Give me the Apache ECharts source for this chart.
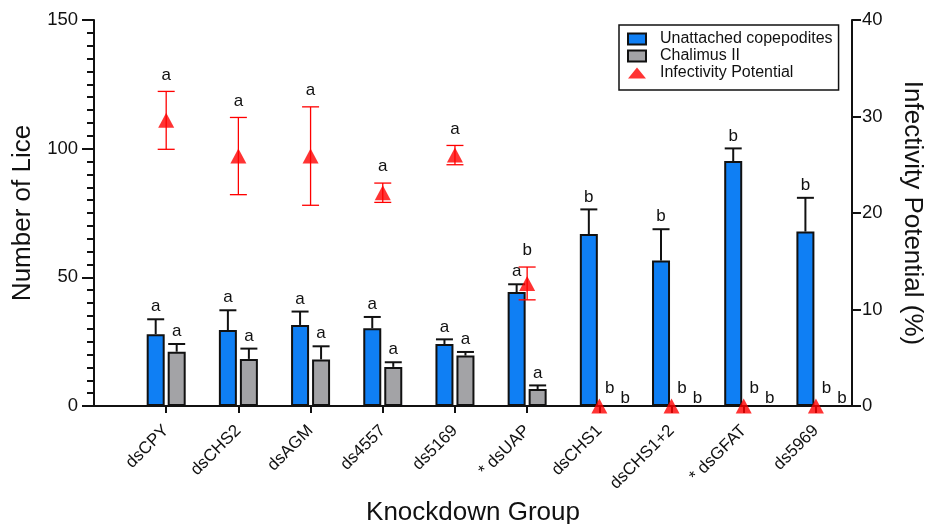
<!doctype html>
<html>
<head>
<meta charset="utf-8">
<title>Knockdown Group</title>
<script src="https://cdn.jsdelivr.net/npm/echarts@6/dist/echarts.min.js"></script>
</head>
<body style="margin:0;padding:0;background:#fff">
<div id="chart" style="width:927px;height:524px"></div>
<script>
// categories (x = index + 1 on a value axis so the ends match the original)
var groups = ['dsCPY', 'dsCHS2', 'dsAGM', 'ds4557', 'ds5169', '* dsUAP', 'dsCHS1', 'dsCHS1+2', '* dsGFAT', 'ds5969'];
var copepodites = [27.9, 29.5, 31.5, 30.2, 24.1, 44.3, 66.8, 56.5, 95.2, 67.8];
var copepoditesErr = [5.8, 7.7, 5.2, 4.4, 1.8, 3.0, 9.6, 12.2, 4.9, 13.1];
var chalimus = [21.1, 18.3, 18.1, 15.2, 19.6, 6.6, 0, 0, 0, 0];
var chalimusErr = [3.0, 4.0, 5.1, 1.8, 1.4, 1.4, 0, 0, 0, 0];
var infectivity = [29.6, 25.9, 25.9, 22.1, 26.0, 12.7, 0, 0, 0, 0];
var infectivityErr = [3.0, 4.0, 5.1, 1.0, 1.0, 1.7, 0, 0, 0, 0];
var lettersCope = ['a', 'a', 'a', 'a', 'a', 'a', 'b', 'b', 'b', 'b'];
var lettersChal = ['a', 'a', 'a', 'a', 'a', 'a', 'b', 'b', 'b', 'b'];
var lettersInf = ['a', 'a', 'a', 'a', 'a', 'b', 'b', 'b', 'b', 'b'];
var liceTicks = [0, 50, 100, 150];
var infTicks = [0, 10, 20, 30, 40];

var FONT = '"Liberation Sans", Arial, sans-serif';
var BAR_W = 18, BAR_GAP = 3;
var xs = groups.map(function (g, i) { return i + 1; });

function pairs(vals) {
    return vals.map(function (v, i) { return [xs[i], v]; });
}
function errData(vals, errs) {
    return vals.map(function (v, i) { return [xs[i], v, errs[i]]; });
}

// error bar + significance letter; side: -1 blue bar, 1 gray bar, 0 triangle
function makeErr(letters, side) {
    return function (params, api) {
        var x = api.value(0), v = api.value(1), e = api.value(2);
        var letter = letters[params.dataIndex];
        var base = api.coord([x, v]);
        var top = api.coord([x, v + e]);
        var bot = api.coord([x, v - e]);
        var cx = base[0] + side * (BAR_W + BAR_GAP) / 2;
        var tri = side === 0;
        var col = tri ? '#ff0000' : '#111';
        var lw = tri ? 1.3 : 2;
        var half = 8.5;
        var kids = [];
        if (e > 0) {
            kids.push({ type: 'line', shape: { x1: cx, y1: tri ? bot[1] : base[1], x2: cx, y2: top[1] }, style: { stroke: col, lineWidth: lw } });
            kids.push({ type: 'line', shape: { x1: cx - half, y1: top[1], x2: cx + half, y2: top[1] }, style: { stroke: col, lineWidth: lw } });
            if (tri) kids.push({ type: 'line', shape: { x1: cx - half, y1: bot[1], x2: cx + half, y2: bot[1] }, style: { stroke: col, lineWidth: lw } });
        }
        var tx = cx, ty = top[1] - (tri ? 8 : 4);
        if (v === 0 && e === 0) {
            if (tri) { tx = cx + 26; ty = base[1] + 1; }
            else { tx = cx; ty = base[1] - 9; }
        }
        kids.push({ type: 'text', style: { text: letter, x: tx, y: ty, align: 'center', verticalAlign: 'bottom', fill: '#111', font: '17px ' + FONT } });
        return { type: 'group', children: kids };
    };
}

var chart = echarts.init(document.getElementById('chart'));
chart.setOption({
    animation: false,
    textStyle: { fontFamily: FONT },
    grid: { left: 94, right: 75, top: 20, bottom: 118, outerBoundsMode: 'none', containLabel: false },
    legend: {
        orient: 'vertical',
        left: 619,
        top: 25,
        padding: [6, 6, 9, 8],
        itemGap: 1,
        itemWidth: 18,
        itemHeight: 11,
        borderColor: '#111',
        borderWidth: 1.5,
        backgroundColor: '#fff',
        textStyle: { fontSize: 16, color: '#111', fontFamily: FONT, padding: [0, 0, 0, 9] },
        data: [
            { name: 'Unattached copepodites', icon: 'rect' },
            { name: 'Chalimus II', icon: 'rect' },
            { name: 'Infectivity Potential', icon: 'triangle' }
        ]
    },
    xAxis: {
        type: 'value',
        min: 0,
        max: 10.5,
        name: 'Knockdown Group',
        nameLocation: 'middle',
        nameGap: 87,
        nameTextStyle: { fontSize: 26, color: '#111', fontFamily: FONT },
        axisLine: { lineStyle: { color: '#111', width: 2 } },
        axisTick: { customValues: xs, length: 7, lineStyle: { color: '#111', width: 2 } },
        splitLine: { show: false },
        axisLabel: {
            customValues: xs,
            rotate: 45,
            margin: 22,
            fontSize: 17,
            color: '#111',
            formatter: function (v) { return groups[Math.round(v) - 1] || ''; }
        }
    },
    yAxis: [{
        type: 'value',
        min: liceTicks[0],
        max: liceTicks[liceTicks.length - 1],
        interval: liceTicks[1] - liceTicks[0],
        name: 'Number of Lice',
        nameLocation: 'middle',
        nameGap: 56,
        nameTextStyle: { fontSize: 26, color: '#111', fontFamily: FONT },
        axisLine: { show: true, lineStyle: { color: '#111', width: 2 } },
        axisTick: { show: true, length: 12, lineStyle: { color: '#111', width: 2 } },
        minorTick: { show: true, splitNumber: 10, length: 7, lineStyle: { color: '#111', width: 2 } },
        splitLine: { show: false },
        axisLabel: { fontSize: 18.5, color: '#111', margin: 16 }
    }, {
        type: 'value',
        position: 'right',
        min: infTicks[0],
        max: infTicks[infTicks.length - 1],
        interval: infTicks[1] - infTicks[0],
        name: 'Infectivity Potential (%)',
        nameLocation: 'middle',
        nameRotate: -90,
        nameGap: 47,
        nameTextStyle: { fontSize: 26, color: '#111', fontFamily: FONT },
        axisLine: { show: true, lineStyle: { color: '#111', width: 2 } },
        axisTick: { show: true, length: 9, lineStyle: { color: '#111', width: 2 } },
        splitLine: { show: false },
        axisLabel: { fontSize: 18.5, color: '#111', margin: 10 }
    }],
    series: [{
        name: 'Unattached copepodites',
        type: 'bar',
        barWidth: BAR_W,
        barGap: (BAR_GAP / BAR_W * 100) + '%',
        clip: false,
        itemStyle: { color: '#0f7ff4', borderColor: '#111', borderWidth: 2 },
        data: pairs(copepodites),
        z: 2
    }, {
        name: 'Chalimus II',
        type: 'bar',
        barWidth: BAR_W,
        barGap: (BAR_GAP / BAR_W * 100) + '%',
        clip: false,
        itemStyle: { color: '#a3a3a6', borderColor: '#111', borderWidth: 2 },
        data: pairs(chalimus),
        z: 2
    }, {
        type: 'custom',
        renderItem: makeErr(lettersCope, -1),
        clip: false,
        data: errData(copepodites, copepoditesErr),
        encode: { x: 0, y: 1 },
        z: 3
    }, {
        type: 'custom',
        renderItem: makeErr(lettersChal, 1),
        clip: false,
        data: errData(chalimus, chalimusErr),
        encode: { x: 0, y: 1 },
        z: 3
    }, {
        type: 'custom',
        yAxisIndex: 1,
        renderItem: makeErr(lettersInf, 0),
        clip: false,
        data: errData(infectivity, infectivityErr),
        encode: { x: 0, y: 1 },
        z: 4
    }, {
        name: 'Infectivity Potential',
        type: 'scatter',
        yAxisIndex: 1,
        symbol: 'triangle',
        symbolSize: [16, 15],
        clip: false,
        itemStyle: { color: '#ff0000' },
        data: pairs(infectivity),
        z: 5
    }]
});
</script>
</body>
</html>
